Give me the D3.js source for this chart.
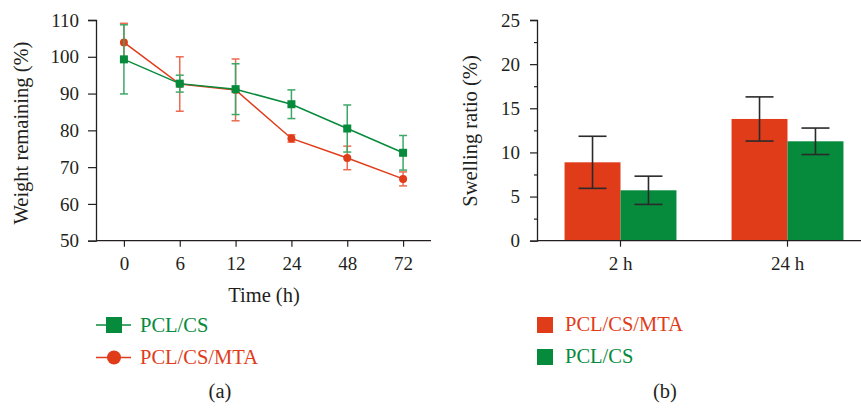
<!DOCTYPE html>
<html><head><meta charset="utf-8">
<script src="https://cdn.jsdelivr.net/npm/d3@7"></script>
<style>
body{margin:0;background:#fff;}
text{font-family:"Liberation Serif","Times New Roman",serif;fill:#231f20;}
</style></head>
<body><svg id="c" width="861" height="410"></svg>
<script>
// ---- data (a) weight remaining ----
const timeLabels = ["0","6","12","24","48","72"];
const pclcsMean = [99.3, 92.7, 91.2, 87.1, 80.5, 73.9];
const pclcsErr  = [9.4, 2.3, 6.9, 3.9, 6.4, 4.7];
const mtaMean   = [103.9, 92.6, 91.0, 77.8, 72.5, 66.8];
const mtaErr    = [5.2, 7.4, 8.4, 1.0, 3.2, 1.9];
const weightTicks = [50,60,70,80,90,100,110];
// ---- data (b) swelling ratio ----
const swellCats = ["2 h","24 h"];
const swellSeries = ["PCL/CS/MTA","PCL/CS"];
const swellMTA = [8.88, 13.79];
const swellMTAErr = [2.95, 2.5];
const swellCS = [5.71, 11.26];
const swellCSErr = [1.6, 1.5];
const swellTicks = [0,5,10,15,20,25];

const GREEN="#068a3c", RED="#e03c1a", GREEN_L="#3da866", RED_L="#ec6b52", AX="#231f20";
const TICKF="19px", TITLEF="20.5px";
const svg=d3.select("#c");

function styleAxis(a){
  a.select(".domain").attr("stroke",AX).attr("stroke-width",1.3);
  a.selectAll(".tick line").attr("stroke",AX).attr("stroke-width",1.2);
  a.selectAll("text").style("font-size",TICKF).attr("fill",AX).style("font-family","'Liberation Serif',serif");
}

// ===== Chart (a) =====
const xA=d3.scalePoint().domain(timeLabels).range([96,431]).padding(0.5);
const yA=d3.scaleLinear().domain([50,110]).range([240.7,20]);
const gA=svg.append("g");
const axA=gA.append("g").attr("transform","translate(96,0)")
  .call(d3.axisLeft(yA).tickValues(weightTicks).tickSize(8).tickPadding(9));
const axAx=gA.append("g").attr("transform","translate(0,240.7)")
  .call(d3.axisBottom(xA).tickSize(6).tickPadding(10));
styleAxis(axA); styleAxis(axAx);
axAx.select(".domain").attr("d","M96,0H431");
gA.append("text").attr("transform","translate(28,133) rotate(-90)").attr("text-anchor","middle")
  .style("font-size",TITLEF).text("Weight remaining (%)");
gA.append("text").attr("x",264).attr("y",301.5).attr("text-anchor","middle").style("font-size",TITLEF).text("Time (h)");

function drawSeries(mean,err,col,colL,shape){
  const g=gA.append("g");
  const line=d3.line().x((d,i)=>xA(timeLabels[i])).y(d=>yA(d));
  g.append("path").datum(mean).attr("d",line).attr("fill","none").attr("stroke",col).attr("stroke-width",1.5);
  mean.forEach((m,i)=>{
    const x=xA(timeLabels[i]), t=yA(m+err[i]), b=yA(m-err[i]);
    g.append("line").attr("x1",x).attr("x2",x).attr("y1",t).attr("y2",b).attr("stroke",colL).attr("stroke-width",1.5);
    [t,b].forEach(y=>g.append("line").attr("x1",x-4).attr("x2",x+4).attr("y1",y).attr("y2",y).attr("stroke",colL).attr("stroke-width",1.5));
  });
  mean.forEach((m,i)=>{
    const x=xA(timeLabels[i]), y=yA(m);
    if(shape==="sq") g.append("rect").attr("x",x-4).attr("y",y-4).attr("width",8).attr("height",8).attr("fill",col);
    else g.append("circle").attr("cx",x).attr("cy",y).attr("r",4).attr("fill",col);
  });
}
drawSeries(mtaMean,mtaErr,RED,RED_L,"c");
drawSeries(pclcsMean,pclcsErr,GREEN,GREEN_L,"sq");

// legend (a)
const legA=[{n:"PCL/CS",c:GREEN,s:"sq",y:325},{n:"PCL/CS/MTA",c:RED,s:"c",y:357.5}];
legA.forEach(d=>{
  gA.append("line").attr("x1",96).attr("x2",131).attr("y1",d.y).attr("y2",d.y).attr("stroke",d.c).attr("stroke-width",1.5);
  if(d.s==="sq") gA.append("rect").attr("x",106).attr("y",d.y-8).attr("width",16).attr("height",16).attr("fill",d.c);
  else gA.append("circle").attr("cx",114).attr("cy",d.y).attr("r",7).attr("fill",d.c);
  gA.append("text").attr("x",140).attr("y",d.y+6.5).style("font-size",TITLEF).style("fill",d.c).text(d.n);
});
gA.append("text").attr("x",220).attr("y",398).attr("text-anchor","middle").style("font-size",TITLEF).text("(a)");

// ===== Chart (b) =====
const xB=d3.scaleBand().domain(swellCats).range([537,871]).paddingInner(0.33).paddingOuter(0.165);
const xS=d3.scaleBand().domain(swellSeries).range([0,xB.bandwidth()]);
const yB=d3.scaleLinear().domain([0,25]).range([240.7,20]);
const gB=svg.append("g");
const sw=[{vals:swellMTA,err:swellMTAErr,c:RED,s:"PCL/CS/MTA"},{vals:swellCS,err:swellCSErr,c:GREEN,s:"PCL/CS"}];
sw.forEach(S=>{
  gB.selectAll(null).data(S.vals).enter().append("rect")
    .attr("x",(d,i)=>xB(swellCats[i])+xS(S.s)).attr("width",xS.bandwidth())
    .attr("y",d=>yB(d)).attr("height",d=>yB(0)-yB(d)).attr("fill",S.c);
});
sw.forEach(S=>{
  S.vals.forEach((v,i)=>{
    const x=xB(swellCats[i])+xS(S.s)+xS.bandwidth()/2, t=yB(v+S.err[i]), b=yB(v-S.err[i]);
    gB.append("line").attr("x1",x).attr("x2",x).attr("y1",t).attr("y2",b).attr("stroke","#2a2a2a").attr("stroke-width",1.6);
    [t,b].forEach(y=>gB.append("line").attr("x1",x-14).attr("x2",x+14).attr("y1",y).attr("y2",y).attr("stroke","#2a2a2a").attr("stroke-width",1.6));
  });
});
const minor=d3.range(0,25.1,2.5).filter(v=>v%5!==0);
const axBm=gB.append("g").attr("transform","translate(537,0)").call(d3.axisLeft(yB).tickValues(minor).tickSize(3).tickFormat(""));
const axB=gB.append("g").attr("transform","translate(537,0)")
  .call(d3.axisLeft(yB).tickValues(swellTicks).tickSize(7).tickPadding(10));
const axBx=gB.append("g").attr("transform","translate(0,240.7)")
  .call(d3.axisBottom(xB).tickSize(6).tickPadding(10));
styleAxis(axBm); styleAxis(axB); styleAxis(axBx);
axBx.select(".domain").attr("d","M537,0H871");
axBm.select(".domain").remove();
gB.append("text").attr("transform","translate(477,131) rotate(-90)").attr("text-anchor","middle")
  .style("font-size",TITLEF).text("Swelling ratio (%)");
// legend (b)
const legB=[{n:"PCL/CS/MTA",c:RED,y:325},{n:"PCL/CS",c:GREEN,y:357}];
legB.forEach(d=>{
  gB.append("rect").attr("x",537).attr("y",d.y-8).attr("width",16).attr("height",16).attr("fill",d.c);
  gB.append("text").attr("x",565).attr("y",d.y+6).style("font-size",TITLEF).style("fill",d.c).text(d.n);
});
gB.append("text").attr("x",665).attr("y",398).attr("text-anchor","middle").style("font-size",TITLEF).text("(b)");
</script></body></html>
